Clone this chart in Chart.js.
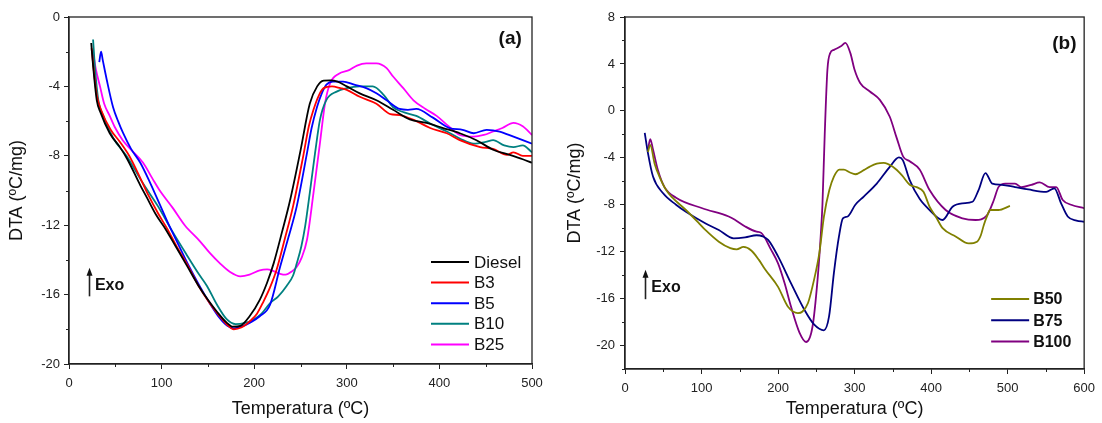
<!DOCTYPE html>
<html>
<head>
<meta charset="utf-8">
<title>DTA</title>
<script src="https://cdn.jsdelivr.net/npm/chart.js@4.4.0/dist/chart.umd.min.js"></script>
<style>
  html, body { margin: 0; padding: 0; background: #fff; }
  #wrap { position: relative; width: 1102px; height: 423px; }
  canvas { position: absolute; top: 0; }
  #chartA { left: 0; }
  #chartB { left: 560px; }
</style>
</head>
<body>
<div id="wrap">
  <canvas id="chartA" width="560" height="423"></canvas>
  <canvas id="chartB" width="542" height="423"></canvas>
</div>
<script>
// ---- panel (a): diesel and low blends ----
const dieselT = [24, 26, 30, 34, 44, 55, 63, 77, 84, 94, 104, 115, 127, 140, 150, 160, 170, 177, 185, 195, 206, 214, 221, 230, 239, 250, 260, 268, 275, 282, 290, 300, 314, 332, 350, 368, 386, 404, 422, 440, 458, 476, 490, 500];
const dieselDTA = [-1.5, -2.8, -4.8, -5.5, -6.7, -7.5, -8.2, -9.7, -10.4, -11.4, -12.2, -13.2, -14.3, -15.5, -16.3, -17.0, -17.6, -17.85, -17.8, -17.25, -16.3, -15.3, -14.2, -12.4, -10.5, -7.7, -5.0, -4.0, -3.67, -3.65, -3.72, -4.0, -4.4, -4.8, -5.35, -5.9, -6.1, -6.4, -6.7, -7.1, -7.65, -7.95, -8.2, -8.4];

const b3T = [24.4, 27, 30, 35, 45, 55, 65, 78, 86, 96, 106, 117, 129, 141, 152, 162, 171, 178, 186, 196, 203, 210, 217, 224, 233, 242, 253, 259, 264, 270, 275, 284, 293, 300, 314, 332, 347, 357, 375, 390, 408, 422, 444, 458, 473, 480, 490, 500];
const b3DTA = [-1.8, -3.2, -4.5, -5.4, -6.5, -7.2, -8.0, -9.4, -10.3, -11.3, -12.2, -13.3, -14.4, -15.6, -16.5, -17.2, -17.75, -18.0, -17.9, -17.5, -17.1, -16.4, -15.6, -14.6, -12.8, -10.9, -8.0, -6.3, -5.35, -4.5, -4.1, -4.0, -4.1, -4.2, -4.6, -5.0, -5.6, -5.65, -6.0, -6.4, -6.7, -7.1, -7.5, -7.6, -7.95, -7.8, -8.0, -8.0];

const b5T = [32.7, 34.6, 36.5, 40.7, 47.6, 53, 58.5, 67, 77, 88, 98, 108, 118, 129, 141, 152, 162, 171, 178, 186, 196, 206, 217, 228, 237, 246, 257, 262, 268, 273, 278, 285, 296, 308, 321, 332, 343, 357, 366, 375, 393, 411, 425, 437, 451, 465, 480, 500];
const b5DTA = [-2.6, -2.0, -2.5, -3.6, -5.2, -6.0, -6.7, -7.6, -8.4, -9.6, -10.8, -12.0, -13.1, -14.3, -15.5, -16.5, -17.3, -17.8, -17.95, -17.85, -17.6, -17.25, -16.6, -14.4, -12.7, -10.9, -7.85, -6.4, -5.16, -4.4, -3.9, -3.72, -3.72, -3.9, -4.1, -4.4, -4.8, -5.3, -5.35, -5.3, -5.8, -6.4, -6.5, -6.7, -6.5, -6.6, -6.9, -7.3];

const b10T = [26, 28, 31.7, 37, 48, 62, 80, 96, 111, 127, 140, 149, 160, 170, 180, 189, 199, 208, 217, 226, 235, 242, 246, 251, 255, 260, 265.7, 271, 278, 289, 300, 314, 328, 340, 350, 362, 375, 392, 408, 422, 437, 450, 458, 470, 480, 490, 500];
const b10DTA = [-1.3, -2.9, -4.8, -5.7, -7.0, -8.0, -9.6, -10.9, -12.3, -13.7, -14.8, -15.5, -16.6, -17.4, -17.7, -17.65, -17.45, -17.1, -16.5, -16.1, -15.5, -14.9, -14.2, -13.2, -12.07, -10.15, -7.85, -5.93, -4.78, -4.3, -4.1, -4.0, -4.0, -4.5, -5.2, -5.5, -5.7, -6.2, -6.6, -7.0, -7.3, -7.2, -7.1, -7.4, -7.5, -7.4, -7.8];

const b25T = [25.6, 29, 33.5, 38, 44, 50, 58, 68, 80, 90, 98, 112, 125, 141, 152, 163, 174, 185, 195, 206, 214, 221, 228, 234, 241, 246, 251, 257, 264, 271, 276.5, 282, 291, 303, 311, 321, 332, 343, 350, 361, 372, 385, 397, 410, 422, 437, 448, 458, 468, 480, 490, 500];
const b25DTA = [-1.9, -3.0, -4.0, -5.0, -5.7, -6.4, -7.1, -7.7, -8.4, -9.3, -10.0, -11.0, -12.0, -12.9, -13.6, -14.2, -14.7, -14.95, -14.85, -14.6, -14.55, -14.65, -14.8, -14.85, -14.65, -14.4, -13.9, -12.84, -10.15, -7.27, -4.97, -3.82, -3.28, -3.05, -2.8, -2.67, -2.67, -2.95, -3.43, -4.1, -4.8, -5.3, -5.7, -6.3, -6.8, -6.9, -6.8, -6.6, -6.4, -6.1, -6.3, -6.8];

// ---- panel (b): high blends ----
const b50T = [30, 33, 38.7, 45, 53.8, 62, 79.6, 97, 105, 122.6, 137.6, 146, 154.8, 165, 175, 183, 200, 213, 226, 232, 239, 247, 254, 260, 267, 273, 280, 286, 294, 301, 312, 320, 329, 338, 350, 362, 372, 381, 390, 398, 406, 415, 432, 449, 460, 465, 469, 473, 477, 488, 503];
const b50DTA = [-3.5, -2.9, -4.5, -5.6, -6.75, -7.4, -8.45, -9.6, -10.15, -11.15, -11.7, -11.8, -11.6, -11.9, -12.7, -13.5, -15.0, -16.7, -17.24, -17.1, -16.4, -14.4, -12.1, -9.0, -6.75, -5.6, -5.0, -5.0, -5.25, -5.4, -5.05, -4.75, -4.5, -4.43, -4.77, -5.5, -6.3, -6.5, -6.9, -8.17, -9.0, -10.0, -10.7, -11.3, -11.15, -10.6, -9.7, -9.0, -8.45, -8.45, -8.1];

const b75T = [25.8, 30, 36.6, 49.5, 66.7, 79.6, 105.4, 122.6, 142, 157, 172, 180, 187, 200, 217, 234.5, 247, 260, 266.7, 273, 279.6, 284.7, 291, 301, 312, 329, 346, 358, 363, 372, 385, 398, 415, 428, 441, 454, 462, 471, 480, 492.5, 509.7, 527, 550.5, 561, 570, 578.5, 590, 600];
const b75DTA = [-1.87, -3.6, -5.6, -7.0, -8.0, -8.6, -9.6, -10.15, -10.86, -10.78, -10.6, -10.7, -11.0, -12.4, -14.7, -16.96, -18.2, -18.7, -17.5, -13.8, -10.7, -9.16, -9.0, -8.0, -7.3, -6.2, -4.77, -3.97, -4.2, -5.9, -7.5, -8.45, -9.3, -8.17, -7.88, -7.75, -6.75, -5.3, -6.2, -6.3, -6.5, -6.7, -6.9, -6.6, -7.9, -9.0, -9.35, -9.45];

const b100T = [30, 33, 36.6, 43, 51.6, 66.7, 101, 135.5, 144, 157, 172, 178, 191, 200, 208.6, 217, 228, 236.6, 245, 251.6, 256, 258, 261, 264.5, 268, 273, 282, 288, 294.6, 300, 307.5, 320, 333, 346, 355, 363.5, 372, 385, 398, 419, 441, 458, 473, 482, 488, 497, 509.7, 518, 531, 542, 555, 563.5, 572, 583, 600];
const b100DTA = [-3.3, -2.4, -3.3, -5.05, -6.5, -7.4, -8.3, -9.0, -9.3, -9.85, -10.3, -10.4, -11.85, -13.0, -14.7, -16.7, -18.9, -19.7, -18.4, -14.4, -10.4, -8.0, -2.0, 3.5, 4.9, 5.2, 5.5, 5.8, 4.9, 3.5, 2.35, 1.65, 0.94, -0.5, -2.3, -3.9, -4.3, -5.0, -6.75, -8.45, -9.16, -9.3, -8.9, -7.6, -6.5, -6.2, -6.2, -6.5, -6.3, -6.1, -6.5, -6.5, -7.6, -8.0, -8.3];

const FONT = '"Liberation Sans", Arial, sans-serif';
Chart.defaults.font.family = FONT;
Chart.defaults.color = '#222';

function series(label, T, DTA, color) {
  return {
    label: label,
    data: T.map((t, i) => ({ x: t, y: DTA[i] })),
    borderColor: color,
    backgroundColor: color,
    borderWidth: 1.8,
    pointRadius: 0,
    showLine: true,
    cubicInterpolationMode: 'monotone'
  };
}

// frame, minor ticks, panel letter, Exo arrow and the legend
const decorations = {
  id: 'decorations',
  afterDraw(chart, args, o) {
    const ctx = chart.ctx;
    const { left, top, right, bottom } = chart.chartArea;
    const xs = chart.scales.x, ys = chart.scales.y;
    ctx.save();
    ctx.strokeStyle = '#222';
    ctx.lineWidth = 1.3;
    ctx.strokeRect(left, top, right - left, bottom - top);

    ctx.lineWidth = 1;
    for (let v = xs.min; v <= xs.max; v += o.minorX) {
      if (v % o.majorX === 0) continue;
      const px = Math.round(xs.getPixelForValue(v)) + 0.5;
      ctx.beginPath(); ctx.moveTo(px, bottom); ctx.lineTo(px, bottom + 3); ctx.stroke();
    }
    for (let v = ys.min; v <= ys.max; v += o.minorY) {
      if (v % o.majorY === 0) continue;
      const py = Math.round(ys.getPixelForValue(v)) + 0.5;
      ctx.beginPath(); ctx.moveTo(left, py); ctx.lineTo(left - 3, py); ctx.stroke();
    }

    // panel letter
    ctx.fillStyle = '#111';
    ctx.font = 'bold 19px ' + FONT;
    ctx.textAlign = 'right';
    ctx.textBaseline = 'middle';
    ctx.fillText(o.letter, xs.getPixelForValue(o.letterAt[0]), ys.getPixelForValue(o.letterAt[1]));

    // Exo arrow
    const ax = Math.round(xs.getPixelForValue(o.arrowX)) + 0.5;
    const aTop = ys.getPixelForValue(o.arrowY[0]);
    const aBot = ys.getPixelForValue(o.arrowY[1]);
    ctx.lineWidth = 1.6;
    ctx.beginPath(); ctx.moveTo(ax, aBot); ctx.lineTo(ax, aTop + 6); ctx.stroke();
    ctx.beginPath();
    ctx.moveTo(ax, aTop); ctx.lineTo(ax - 3, aTop + 8); ctx.lineTo(ax + 3, aTop + 8);
    ctx.closePath(); ctx.fill();
    ctx.font = 'bold 16px ' + FONT;
    ctx.textAlign = 'left';
    ctx.fillText('Exo', xs.getPixelForValue(o.exoAt[0]), ys.getPixelForValue(o.exoAt[1]));

    // legend
    const lg = o.legend;
    ctx.font = lg.font;
    chart.data.datasets.forEach((ds, i) => {
      const y = top + lg.top + i * lg.gap;
      const x0 = right - lg.fromRight;
      ctx.strokeStyle = ds.borderColor;
      ctx.lineWidth = 2;
      ctx.beginPath(); ctx.moveTo(x0, y); ctx.lineTo(x0 + lg.line, y); ctx.stroke();
      ctx.fillStyle = '#111';
      ctx.fillText(ds.label, x0 + lg.line + lg.pad, y + 1);
    });
    ctx.restore();
  }
};

function makeOptions(cfg) {
  return {
    responsive: false,
    animation: false,
    devicePixelRatio: 1,
    layout: { padding: { top: 17, right: cfg.padRight, left: 0, bottom: 0 } },
    plugins: {
      legend: { display: false },
      tooltip: { enabled: false },
      decorations: cfg.deco
    },
    scales: {
      x: {
        type: 'linear',
        min: cfg.xMin, max: cfg.xMax,
        afterFit: s => { s.height = cfg.xHeight; },
        ticks: { stepSize: 100, padding: 7, font: { size: 13 }, color: '#222', maxRotation: 0 },
        grid: { display: true, drawOnChartArea: false, drawTicks: true, tickLength: 5, tickColor: '#222', tickWidth: 1 },
        border: { display: true, color: '#222', width: 1.3 },
        title: { display: true, text: 'Temperatura (ºC)', font: { size: 18 }, color: '#111', padding: { top: 4, bottom: 3 } }
      },
      y: {
        type: 'linear',
        min: cfg.yMin, max: cfg.yMax,
        afterFit: s => { s.width = cfg.yWidth; },
        ticks: { stepSize: 4, includeBounds: false, padding: cfg.yPad, font: { size: 13 }, color: '#222' },
        grid: { display: true, drawOnChartArea: false, drawTicks: true, tickLength: 5, tickColor: '#222', tickWidth: 1 },
        border: { display: true, color: '#222', width: 1.3 },
        title: { display: true, text: 'DTA (ºC/mg)', font: { size: 18 }, color: '#111', padding: { top: cfg.yTitlePad, bottom: 4 } }
      }
    }
  };
}

new Chart(document.getElementById('chartA'), {
  type: 'scatter',
  data: {
    datasets: [
      series('Diesel', dieselT, dieselDTA, '#000000'),
      series('B3', b3T, b3DTA, '#ff0000'),
      series('B5', b5T, b5DTA, '#0000ff'),
      series('B10', b10T, b10DTA, '#008080'),
      series('B25', b25T, b25DTA, '#ff00ff')
    ]
  },
  options: makeOptions({
    xMin: 0, xMax: 500, yMin: -20, yMax: 0,
    padRight: 28, xHeight: 59, yWidth: 69, yPad: 4, yTitlePad: 6,
    deco: {
      minorX: 50, majorX: 100, minorY: 2, majorY: 4,
      letter: '(a)', letterAt: [489, -1.24],
      arrowX: 21.6, arrowY: [-14.45, -16.1], exoAt: [28, -15.5],
      legend: { fromRight: 101, top: 245, gap: 20.6, line: 38, pad: 5, font: '17px ' + FONT }
    }
  }),
  plugins: [decorations]
});

new Chart(document.getElementById('chartB'), {
  type: 'scatter',
  data: {
    datasets: [
      series('B50', b50T, b50DTA, '#808000'),
      series('B75', b75T, b75DTA, '#000080'),
      series('B100', b100T, b100DTA, '#800080')
    ]
  },
  options: makeOptions({
    xMin: 0, xMax: 600, yMin: -22, yMax: 8,
    padRight: 12, xHeight: 54, yWidth: 65, yPad: 5, yTitlePad: 4,
    deco: {
      minorX: 50, majorX: 100, minorY: 2, majorY: 4,
      letter: '(b)', letterAt: [590, 5.72],
      arrowX: 25.8, arrowY: [-13.55, -16.05], exoAt: [34.4, -15.1],
      legend: { fromRight: 93, top: 282, gap: 21.2, line: 38, pad: 4, font: 'bold 16px ' + FONT }
    }
  }),
  plugins: [decorations]
});
</script>
</body>
</html>
